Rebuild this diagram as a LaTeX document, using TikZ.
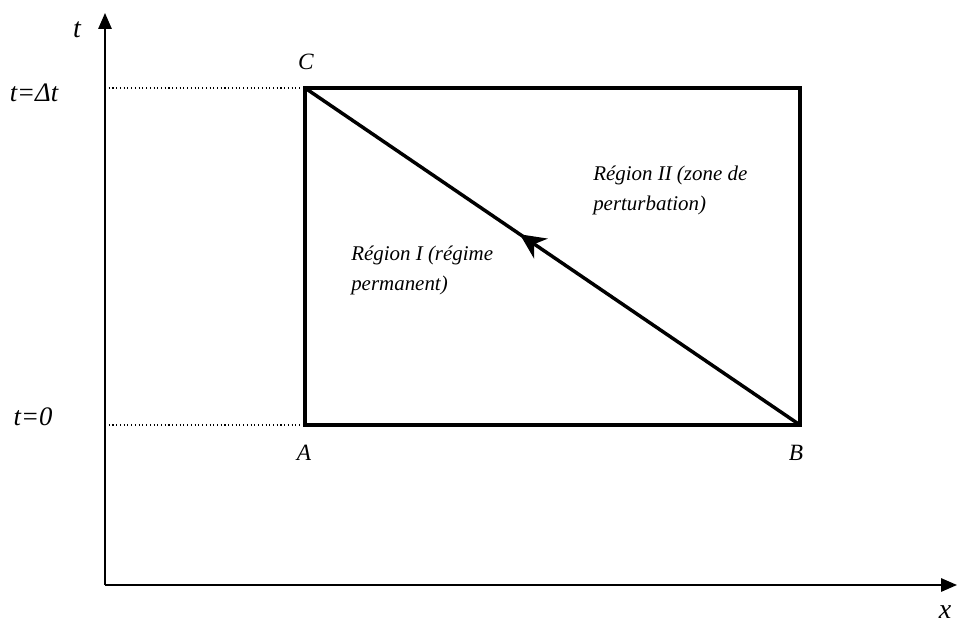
\documentclass[tikz,border=0pt]{standalone}
\usepackage{fontspec}
\setmainfont{Liberation Serif}
\usetikzlibrary{arrows.meta,decorations.markings}
\begin{document}
\begin{tikzpicture}[x=0.75pt,y=-0.75pt,
  axis/.style={line width=1.5pt,-{Triangle[length=12pt,width=10pt]}},
  box/.style={line width=2.6pt,line join=miter},
  guide/.style={line width=0.8pt,dotted},
  lbl/.style={font=\itshape\fontsize{17.5}{20}\selectfont,inner sep=0pt},
  big/.style={font=\itshape\fontsize{21}{24}\selectfont,inner sep=0pt},
  region/.style={font=\itshape\fontsize{15.7}{22.5}\selectfont,inner sep=0pt,align=left,anchor=north west}]
\useasboundingbox (0,0) rectangle (957,624);
\coordinate (O) at (105,585);
\coordinate (Ytop) at (105,13);
\coordinate (Xend) at (957,585);
\coordinate (A) at (305,425);
\coordinate (B) at (800,425);
\coordinate (C) at (305,88);
\coordinate (D) at (800,88);
\coordinate (Y0) at (105,425);
\coordinate (Y1) at (105,88);
\draw[axis] (O) -- (Ytop);
\draw[axis] (O) -- (Xend);
\draw[guide] (Y1) -- (C);
\draw[guide] (Y0) -- (A);
\draw[box] (A) -- (B) -- (D) -- (C) -- cycle;
\draw[box,postaction={decorate,decoration={markings,mark=at position 0.566 with {\arrow{Stealth[length=19pt,width=18pt,inset=6pt]}}}}] (B) -- (C);
\node[big] (lt) at (77,30) {t};
\node[big] (lx) at (945,612) {x};
\node[font=\itshape\fontsize{20}{22}\selectfont,inner sep=0pt] (ldt) at (34,93) {t=\itshape Δt};
\node[font=\itshape\fontsize{20}{22}\selectfont,inner sep=0pt] (l0) at (33,417) {t=0};
\node[lbl] (lC) at (306,62) {C};
\node[lbl] (lA) at (304,453) {A};
\node[lbl] (lB) at (796,453) {B};
\node[region] (r1) at (351,246) {Région I (régime\\permanent)};
\node[region] (r2) at (593,166) {Région II (zone de\\perturbation)};
\end{tikzpicture}
\end{document}
